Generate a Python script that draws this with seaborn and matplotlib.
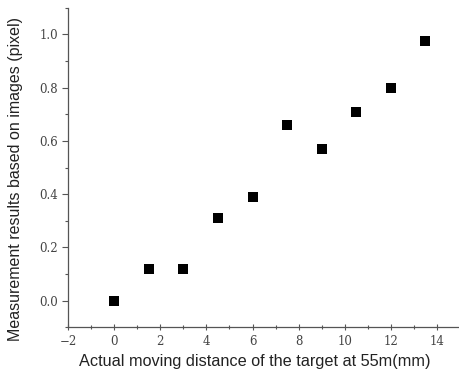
import numpy as np
import pandas as pd
import matplotlib
matplotlib.use("Agg")
import matplotlib.pyplot as plt
import seaborn as sns
from matplotlib.ticker import MultipleLocator

# Data
distance_mm = [0, 1.5, 3, 4.5, 6, 7.5, 9, 10.5, 12, 13.5]
measured_px = [0.0, 0.12, 0.12, 0.31, 0.39, 0.66, 0.57, 0.71, 0.80, 0.975]

df = pd.DataFrame({"distance": distance_mm, "measured": measured_px})

sns.set_style("ticks")
plt.rcParams['font.family'] = ['Liberation Sans', 'DejaVu Sans']

fig = plt.figure(figsize=(4.6, 3.76), dpi=100)
ax = fig.add_axes([0.148, 0.130, 0.852, 0.849])

sns.scatterplot(data=df, x="distance", y="measured", marker="s", s=45,
                color="black", edgecolor="black", linewidth=0, ax=ax)

ax.set_xlim(-2, 15)
ax.set_ylim(-0.1, 1.1)
ax.xaxis.set_major_locator(MultipleLocator(2))
ax.xaxis.set_minor_locator(MultipleLocator(1))
ax.yaxis.set_major_locator(MultipleLocator(0.2))
ax.yaxis.set_minor_locator(MultipleLocator(0.1))
ax.yaxis.set_major_formatter(plt.FuncFormatter(lambda v, p: f"{v:.1f}"))

sns.despine(ax=ax)
for sp in ["left", "bottom"]:
    ax.spines[sp].set_color("#555555")
    ax.spines[sp].set_linewidth(0.9)

ax.tick_params(axis="x", which="major", direction="inout", length=5, width=0.8, colors="#555555", pad=3)
ax.tick_params(axis="x", which="minor", direction="inout", length=3, width=0.8, colors="#555555")
ax.tick_params(axis="y", which="major", direction="out", length=4, width=0.8, colors="#555555", pad=3)
ax.tick_params(axis="y", which="minor", direction="out", length=2, width=0.8, colors="#555555")
for lbl in ax.get_xticklabels() + ax.get_yticklabels():
    lbl.set_family(["DejaVu Serif"])
    lbl.set_fontsize(8.5)
    lbl.set_color("#444444")

ax.set_xlabel("Actual moving distance of the target at 55m(mm)", fontsize=11.7, color="#222222")
ax.set_ylabel("Measurement results based on images (pixel)", fontsize=11.5, color="#222222")
ax.xaxis.set_label_coords(0.477, -0.085)
ax.yaxis.set_label_coords(-0.115, 0.465)

fig.savefig("out.png", dpi=100)
